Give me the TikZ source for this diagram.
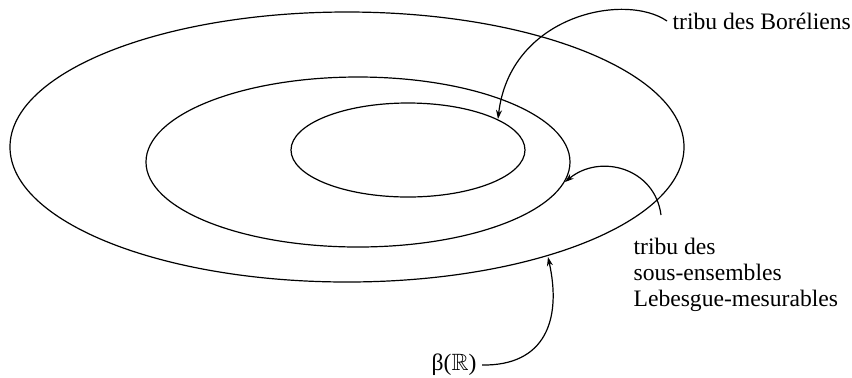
\documentclass[tikz,border=0pt]{standalone}
\usepackage{fontspec}
\setmainfont{Liberation Serif}
\usepackage{amssymb}
\usetikzlibrary{arrows.meta}

\begin{document}
\begin{tikzpicture}[x=0.5pt,y=-0.5pt,line width=0.6pt,
  lbl/.style={inner sep=2.5pt,font=\fontsize{11.8}{13}\selectfont},
  pointer/.style={-{Stealth[length=4.5pt,width=3pt]}}]
\useasboundingbox (0,0) rectangle (852,377);
\draw (347,147) ellipse [x radius=337, y radius=135];
\draw (358,162) ellipse [x radius=212, y radius=85];
\draw (408,150) ellipse [x radius=117, y radius=47];
\coordinate (tipborel) at (498,119);
\coordinate (tiplebesgue) at (565,182);
\coordinate (tipall) at (548,257);
\coordinate (lebstart) at (661,215);
\node[lbl,anchor=west] (borel) at (667,21) {tribu des Boréliens};
\node[lbl,anchor=north west,align=left] (lebesgue) at (628,233) {tribu des\\sous-ensembles\\Lebesgue-mesurables};
\node[lbl,anchor=east] (parts) at (482,365) {β($\mathbb{R}$)};
\draw[pointer] (borel.west) .. controls (625,-8) and (510,15) .. (tipborel);
\draw[pointer] (lebstart) .. controls (655,168) and (600,153) .. (tiplebesgue);
\draw[pointer] (parts.east) .. controls (545,366) and (562,320) .. (tipall);
\end{tikzpicture}
\end{document}
